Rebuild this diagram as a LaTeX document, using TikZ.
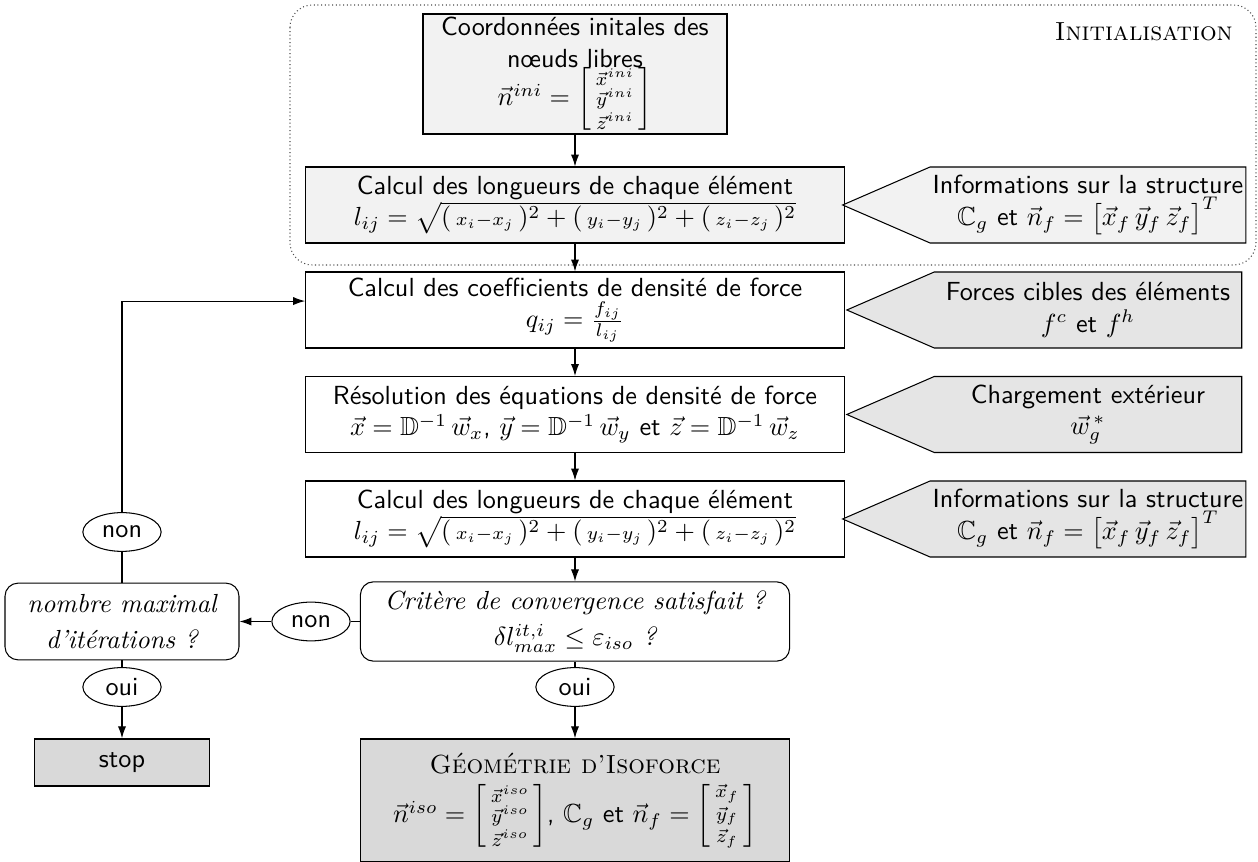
\documentclass[tikz,border=0pt]{standalone}
\usepackage{amsmath,amssymb}
\usepackage{fontspec}
\usetikzlibrary{arrows.meta,shapes.geometric,shapes.symbols}

\newcommand{\longueurs}{$l_{ij}=\sqrt{(\,{\scriptstyle x_i-x_j}\,)^2+(\,{\scriptstyle y_i-y_j}\,)^2+(\,{\scriptstyle z_i-z_j}\,)^2}$}
\newcommand{\infostruct}{Informations sur la structure\\$\mathbb{C}_g$ et $\vec{n}_f=\big[\vec{x}_f\,\vec{y}_f\,\vec{z}_f\big]^T$}

\tikzset{
  etape/.style={draw, fill=white, minimum width=7.23cm, minimum height=1.02cm,
    align=center, inner sep=2pt, font=\sffamily},
  etapeini/.style={etape, fill=gray!10},
  donnee/.style={draw, fill=gray!20, signal, signal to=west, signal pointer angle=47,
    minimum width=5.3cm, minimum height=1.02cm, align=center, inner sep=1pt, font=\sffamily},
  donneeini/.style={donnee, fill=gray!10},
  question/.style={draw, fill=white, rounded corners=5pt, minimum height=1.03cm,
    align=center, font=\rmfamily\itshape},
  reponse/.style={draw, ellipse, fill=white, minimum width=1.05cm, minimum height=0.52cm,
    inner sep=0pt, font=\sffamily},
  resultat/.style={draw, semithick, fill=gray!30, align=center, font=\sffamily},
}

\begin{document}
\begin{tikzpicture}[x=0.1342mm, y=-0.1342mm, >={Latex[length=1.6mm,width=1.1mm]}]
  \useasboundingbox (0,0) rectangle (1258,862);

  % initialisation
  \draw[densely dotted, draw=gray!60!black, rounded corners=0.3cm] (290,5) rectangle (1256,265);
  \node[anchor=east, font=\rmfamily] (titreini) at (1242,32) {\textsc{Initialisation}};
  \node[etapeini, minimum width=4.08cm, minimum height=1.61cm, inner sep=1pt] (coord) at (575,74)
    {Coordonnées initales des\\nœuds libres\\[-1pt]
     $\vec{n}^{ini}=\left[\begin{smallmatrix}\vec{x}^{ini}\\ \vec{y}^{ini}\\ \vec{z}^{ini}\end{smallmatrix}\right]$};
  \node[etapeini] (calc1) at (575,205) {Calcul des longueurs de chaque élément\\\longueurs};
  \node[donneeini] (info1) at (1088,205) {\infostruct};

  % boucle
  \node[etape] (coef) at (575,310)
    {Calcul des coefficients de densité de force\\$q_{ij}=\frac{f_{ij}}{l_{ij}}$};
  \node[donnee] (forces) at (1088,310) {Forces cibles des éléments\\$f^c$ et $f^h$};
  \node[etape] (resol) at (575,414.5)
    {Résolution des équations de densité de force\\
     $\vec{x}=\mathbb{D}^{-1}\,\vec{w}_x$, $\vec{y}=\mathbb{D}^{-1}\,\vec{w}_y$ et $\vec{z}=\mathbb{D}^{-1}\,\vec{w}_z$};
  \node[donnee] (charge) at (1088,414.5) {Chargement extérieur\\$\vec{w}^{\,*}_g$};
  \node[etape] (calc2) at (575,519) {Calcul des longueurs de chaque élément\\\longueurs};
  \node[donnee] (info2) at (1088,519) {\infostruct};

  % tests
  \node[question, minimum width=5.76cm] (crit) at (575,621.5)
    {Critère de convergence satisfait ?\\[2pt]$\delta l^{it,i}_{max}\leq\varepsilon_{iso}$ ?};
  \node[question, minimum width=3.14cm] (nombre) at (122,621.5)
    {nombre maximal\\[2pt]d'itérations ?};
  \node[reponse] (non1) at (311,621.5) {non};
  \node[reponse] (non2) at (122,532) {non};
  \node[reponse] (oui1) at (122,687) {oui};
  \node[reponse] (oui2) at (575,687) {oui};
  \coordinate (retour) at ([yshift=1.2mm]coef.west);

  % fins
  \node[resultat, minimum width=2.35cm, minimum height=0.63cm] (stop) at (122,762.5) {stop};
  \node[resultat, minimum width=5.76cm, minimum height=1.65cm] (geom) at (575,800.5)
    {{\rmfamily\textsc{Géométrie d'Isoforce}}\\[3pt]
     $\vec{n}^{iso}=\left[\begin{smallmatrix}\vec{x}^{iso}\\ \vec{y}^{iso}\\ \vec{z}^{iso}\end{smallmatrix}\right]$,
     $\mathbb{C}_g$ et
     $\vec{n}_f=\left[\begin{smallmatrix}\vec{x}_f\\ \vec{y}_f\\ \vec{z}_f\end{smallmatrix}\right]$};

  \draw[->] (coord) -- (calc1);
  \draw[->] (calc1) -- (coef);
  \draw[->] (coef) -- (resol);
  \draw[->] (resol) -- (calc2);
  \draw[->] (calc2) -- (crit);
  \draw (crit) -- (non1);
  \draw[->] (non1) -- (nombre);
  \draw (nombre) -- (non2);
  \draw[->] (non2) |- (retour);
  \draw (nombre) -- (oui1);
  \draw[->] (oui1) -- (stop);
  \draw (crit) -- (oui2);
  \draw[->] (oui2) -- (geom);
\end{tikzpicture}
\end{document}
